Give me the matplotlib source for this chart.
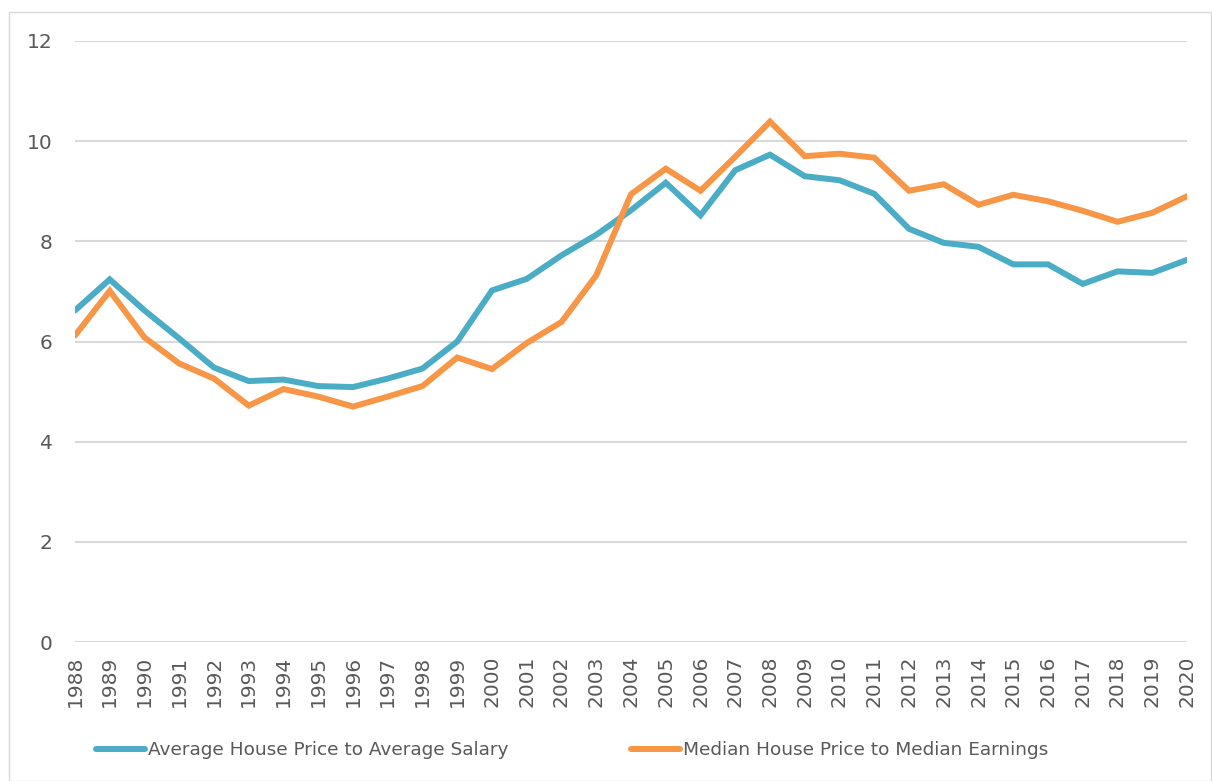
import numpy as np
import matplotlib
matplotlib.use("Agg")
import matplotlib.pyplot as plt
from matplotlib.patches import Rectangle

years = list(range(1988, 2021))

avg_price_to_salary = [6.62, 7.24, 6.62, 6.06, 5.48, 5.21, 5.24, 5.11, 5.09, 5.26, 5.46,
                       6.0, 7.02, 7.25, 7.72, 8.13, 8.62, 9.17, 8.52, 9.42, 9.73,
                       9.3, 9.22, 8.95, 8.25, 7.97, 7.89, 7.54, 7.54, 7.15, 7.4,
                       7.37, 7.63]

median_price_to_earnings = [6.12, 7.01, 6.08, 5.56, 5.26, 4.72, 5.05, 4.9, 4.7, 4.9, 5.11,
                            5.68, 5.45, 5.97, 6.39, 7.32, 8.94, 9.45, 9.01, 9.69, 10.39,
                            9.7, 9.75, 9.67, 9.01, 9.14, 8.73, 8.93, 8.8, 8.61, 8.39,
                            8.57, 8.9]

series_labels = ["Average House Price to Average Salary",
                 "Median House Price to Median Earnings"]
colors = ["#4BACC6", "#F79646"]
text_color = "#595959"

plt.rcParams['font.family'] = ['DejaVu Sans']

fig = plt.figure(figsize=(12.12, 7.81), dpi=100)
ax = fig.add_axes([75/1212, 1 - 642/781, (1187 - 75)/1212, (642 - 41)/781])

for vals, lab, col in zip([avg_price_to_salary, median_price_to_earnings], series_labels, colors):
    ax.plot(years, vals, color=col, lw=4.3, label=lab, solid_capstyle='round', solid_joinstyle='miter')

ax.set_xlim(1988, 2020)
ax.set_ylim(0, 12)
ax.set_yticks(range(0, 13, 2))
ax.set_xticks(years)
ax.set_xticklabels([str(y) for y in years], rotation=90)
ax.grid(axis='y', color='#D9D9D9', lw=1.5)
ax.set_axisbelow(True)
for s in ax.spines.values():
    s.set_visible(False)
ax.tick_params(axis='both', length=0, colors=text_color, labelsize=14.5)
ax.tick_params(axis='y', pad=16)
ax.tick_params(axis='x', pad=10)

fig.legend(loc='center', bbox_to_anchor=(572/1212, 1 - 750/781), ncol=2, frameon=False,
           fontsize=13.3, labelcolor=text_color, handlelength=2.65, handletextpad=0.17,
           columnspacing=6.6)

fig.patches.append(Rectangle((9/1212, 0), 1 - 9/1212 - 0.001, 1 - 12/781, transform=fig.transFigure,
                             fill=False, edgecolor='#D9D9D9', lw=1))

fig.savefig("out.png", dpi=100)
